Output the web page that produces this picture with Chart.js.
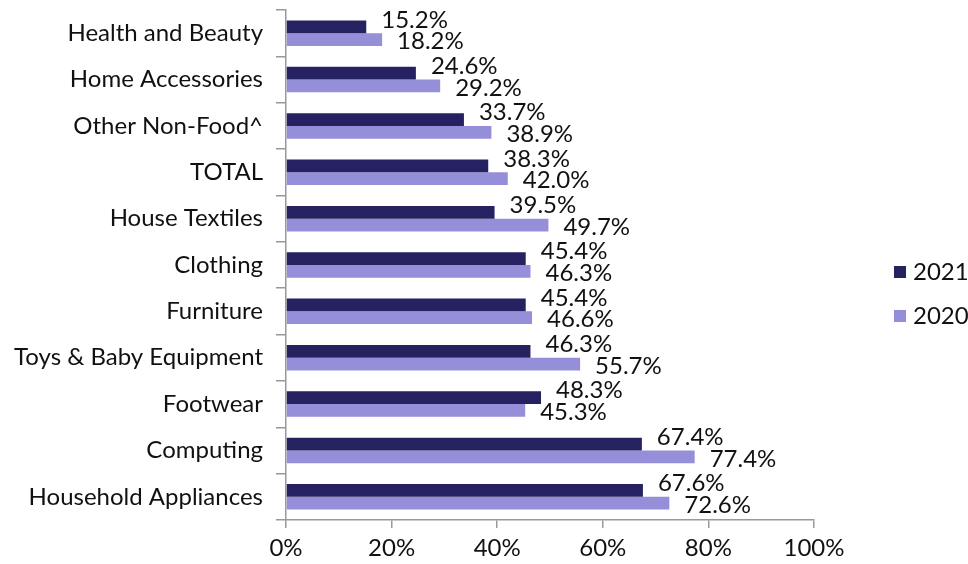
<!DOCTYPE html>
<html>
<head>
<meta charset="utf-8">
<script src="https://cdn.jsdelivr.net/npm/chart.js@4.4.1/dist/chart.umd.min.js"></script>
<style>
  html, body { margin: 0; padding: 0; background: #fff; }
  #wrap { width: 968px; height: 564px; }
</style>
</head>
<body>
<div id="wrap"><canvas id="c" width="968" height="564"></canvas></div>
<script>
const categories = ['Health and Beauty','Home Accessories','Other Non-Food^','TOTAL','House Textiles','Clothing','Furniture','Toys & Baby Equipment','Footwear','Computing','Household Appliances'];
const seriesNames = ['2021', '2020'];
const values2021 = [15.2, 24.6, 33.7, 38.3, 39.5, 45.4, 45.4, 46.3, 48.3, 67.4, 67.6];
const values2020 = [18.2, 29.2, 38.9, 42.0, 49.7, 46.3, 46.6, 55.7, 45.3, 77.4, 72.6];
const xTicks = [0, 20, 40, 60, 80, 100];

const FONT = 'Lato, "Open Sans", sans-serif';
const FS = 24;
const colors = ['#262262', '#948fd8'];

const labelPlugin = {
  id: 'barLabels',
  afterDatasetsDraw(chart) {
    const ctx = chart.ctx;
    ctx.save();
    ctx.font = FS + 'px ' + FONT;
    ctx.fillStyle = '#111';
    ctx.textAlign = 'left';
    ctx.textBaseline = 'middle';
    const offs = [-7, 2];
    chart.data.datasets.forEach((ds, di) => {
      const meta = chart.getDatasetMeta(di);
      meta.data.forEach((el, i) => {
        ctx.fillText(ds.data[i].toFixed(1) + '%', el.x + 15, el.y + offs[di]);
      });
    });
    ctx.restore();
  }
};

const legendPlugin = {
  id: 'sideLegend',
  afterDraw(chart) {
    const ctx = chart.ctx;
    ctx.save();
    ctx.font = FS + 'px ' + FONT;
    ctx.textAlign = 'left';
    ctx.textBaseline = 'middle';
    const ys = [272, 316];
    chart.data.datasets.forEach((ds, di) => {
      ctx.fillStyle = ds.backgroundColor;
      ctx.fillRect(894, ys[di] - 6, 12, 12);
      ctx.fillStyle = '#111';
      ctx.fillText(ds.label, 913, ys[di]);
    });
    ctx.restore();
  }
};

new Chart(document.getElementById('c'), {
  type: 'bar',
  data: {
    labels: categories,
    datasets: [
      { label: seriesNames[0], data: values2021, backgroundColor: colors[0], categoryPercentage: 0.55, barPercentage: 1.0 },
      { label: seriesNames[1], data: values2020, backgroundColor: colors[1], categoryPercentage: 0.55, barPercentage: 1.0 }
    ]
  },
  options: {
    indexAxis: 'y',
    responsive: false,
    animation: false,
    devicePixelRatio: 1,
    layout: { padding: { top: 10, right: 154, left: 0, bottom: 0 } },
    plugins: { legend: { display: false }, tooltip: { enabled: false } },
    scales: {
      x: {
        min: 0, max: 100,
        afterBuildTicks(scale) { scale.ticks = xTicks.map(v => ({ value: v })); },
        afterFit(scale) { scale.height = 44; scale.paddingLeft = 0; scale.paddingRight = 0; },
        grid: { drawOnChartArea: false, drawTicks: true, tickLength: 8, color: '#999', lineWidth: 1.5 },
        border: { color: '#999', width: 1.5 },
        ticks: { font: { family: FONT, size: FS }, color: '#111', padding: 6, maxRotation: 0, callback: v => v + '%' }
      },
      y: {
        afterFit(scale) { scale.width = 286; scale.paddingTop = 0; scale.paddingBottom = 0; },
        grid: { drawOnChartArea: false, drawTicks: true, tickLength: 10, color: '#999', lineWidth: 1.5, offset: true },
        border: { color: '#999', width: 1.5 },
        ticks: { font: { family: FONT, size: FS }, color: '#111', padding: 13, autoSkip: false }
      }
    }
  },
  plugins: [labelPlugin, legendPlugin]
});
</script>
</body>
</html>
